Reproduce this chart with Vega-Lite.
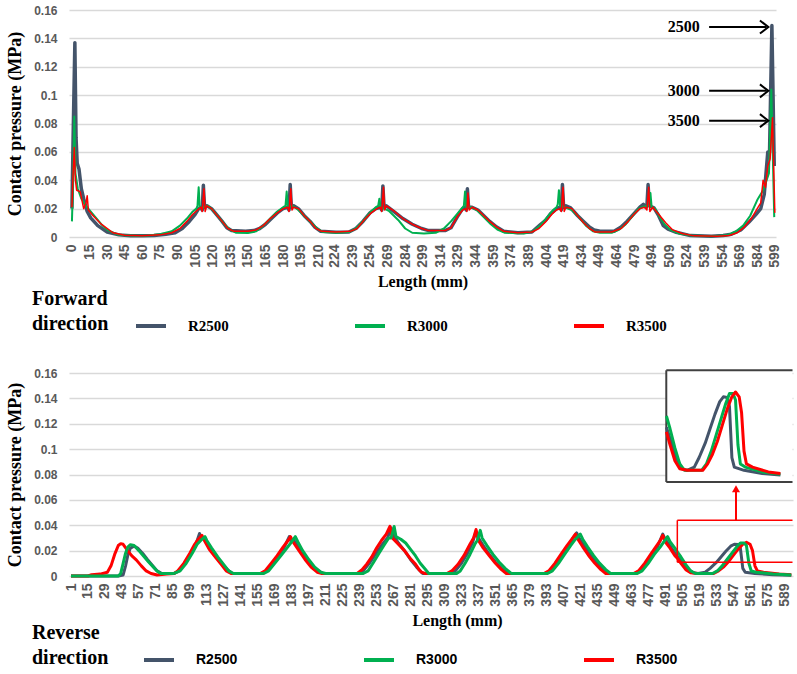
{
"$schema": "https://vega.github.io/schema/vega-lite/v6.json",
"background": "white",
"padding": {"left": 6, "top": 4, "right": 0, "bottom": 0},
"config": {
  "view": {"stroke": null},
  "concat": {"spacing": 33},
  "axis": {"grid": true, "gridColor": "#d9d9d9", "gridWidth": 1.5, "domain": false, "ticks": false, "labelFont": "Liberation Sans", "labelFontWeight": "bold", "labelColor": "#595959", "labelFontSize": 12, "titleFont": "Liberation Serif", "titleFontWeight": "bold", "titleColor": "#000000"},
  "axisX": {"grid": false, "labelAngle": -90, "labelFontSize": 14, "labelPadding": 7, "titleFontSize": 16, "titlePadding": 6, "labelOverlap": false},
  "axisY": {"titleFontSize": 18, "labelPadding": 12, "titlePadding": 9},
  "legend": {"orient": "none", "direction": "horizontal", "columns": 3, "titleOrient": "left", "titleAnchor": "end", "titleAlign": "left", "titleFont": "Liberation Serif", "titleFontSize": 20, "titleFontWeight": "bold", "titleColor": "#000000", "titleLineHeight": 25, "titlePadding": 25, "titleLimit": 300, "symbolType": "stroke", "symbolSize": 900, "symbolStrokeWidth": 4, "labelFontWeight": "bold", "labelColor": "#000000", "labelOffset": 20, "columnPadding": 118}
},
"resolve": {"scale": {"color": "independent"}, "legend": {"color": "independent"}},
"datasets": {
  "f2500": [{"x":0,"y":0.02},{"x":1,"y":0.07},{"x":2.5,"y":0.137},{"x":3.5,"y":0.07},{"x":4.5,"y":0.052},{"x":6,"y":0.048},{"x":8,"y":0.034},{"x":10,"y":0.027},{"x":13,"y":0.018},{"x":16,"y":0.0135},{"x":22,"y":0.008},{"x":30,"y":0.0035},{"x":40,"y":0.0015},{"x":50,"y":0.0008},{"x":60,"y":0.0008},{"x":70,"y":0.001},{"x":80,"y":0.002},{"x":88,"y":0.003},{"x":94,"y":0.006},{"x":100,"y":0.011},{"x":105,"y":0.016},{"x":108,"y":0.02},{"x":110,"y":0.021},{"x":111,"y":0.019},{"x":112,"y":0.0365},{"x":113,"y":0.021},{"x":115,"y":0.022},{"x":119,"y":0.02},{"x":124,"y":0.015},{"x":128,"y":0.011},{"x":132,"y":0.0065},{"x":136,"y":0.0045},{"x":148,"y":0.004},{"x":155,"y":0.0045},{"x":160,"y":0.006},{"x":165,"y":0.009},{"x":170,"y":0.013},{"x":175,"y":0.017},{"x":180,"y":0.02},{"x":184,"y":0.021},{"x":185,"y":0.019},{"x":186,"y":0.037},{"x":187,"y":0.021},{"x":189,"y":0.022},{"x":193,"y":0.02},{"x":198,"y":0.015},{"x":203,"y":0.011},{"x":207,"y":0.007},{"x":212,"y":0.004},{"x":225,"y":0.0033},{"x":236,"y":0.0035},{"x":242,"y":0.006},{"x":248,"y":0.011},{"x":254,"y":0.017},{"x":259,"y":0.02},{"x":263,"y":0.021},{"x":264,"y":0.019},{"x":265,"y":0.036},{"x":266,"y":0.021},{"x":268,"y":0.022},{"x":275,"y":0.0175},{"x":282,"y":0.013},{"x":290,"y":0.009},{"x":298,"y":0.006},{"x":304,"y":0.0045},{"x":318,"y":0.0045},{"x":323,"y":0.0065},{"x":329,"y":0.015},{"x":333,"y":0.02},{"x":335,"y":0.021},{"x":336,"y":0.019},{"x":337,"y":0.034},{"x":338,"y":0.021},{"x":341,"y":0.021},{"x":346,"y":0.019},{"x":351,"y":0.015},{"x":356,"y":0.011},{"x":362,"y":0.007},{"x":368,"y":0.004},{"x":380,"y":0.003},{"x":392,"y":0.0035},{"x":399,"y":0.0085},{"x":404,"y":0.012},{"x":408,"y":0.0165},{"x":413,"y":0.02},{"x":416,"y":0.021},{"x":417,"y":0.019},{"x":418,"y":0.037},{"x":419,"y":0.021},{"x":421,"y":0.022},{"x":425,"y":0.0205},{"x":431,"y":0.015},{"x":436,"y":0.011},{"x":441,"y":0.007},{"x":445,"y":0.005},{"x":450,"y":0.004},{"x":462,"y":0.004},{"x":468,"y":0.007},{"x":473,"y":0.011},{"x":479,"y":0.0165},{"x":484,"y":0.021},{"x":487,"y":0.023},{"x":489,"y":0.021},{"x":490,"y":0.022},{"x":491,"y":0.037},{"x":492,"y":0.022},{"x":496,"y":0.0205},{"x":500,"y":0.015},{"x":504,"y":0.008},{"x":508,"y":0.0055},{"x":515,"y":0.0033},{"x":527,"y":0.001},{"x":545,"y":0.0005},{"x":555,"y":0.001},{"x":562,"y":0.002},{"x":570,"y":0.005},{"x":577,"y":0.0105},{"x":583,"y":0.016},{"x":587,"y":0.02},{"x":590,"y":0.03},{"x":593,"y":0.06},{"x":594.5,"y":0.06},{"x":596.5,"y":0.149},{"x":598.5,"y":0.05}],
  "f3000": [{"x":0,"y":0.011},{"x":1,"y":0.04},{"x":2,"y":0.085},{"x":3,"y":0.045},{"x":5,"y":0.034},{"x":8,"y":0.027},{"x":12,"y":0.022},{"x":15,"y":0.019},{"x":20,"y":0.014},{"x":25,"y":0.009},{"x":30,"y":0.005},{"x":38,"y":0.002},{"x":45,"y":0.0012},{"x":55,"y":0.0008},{"x":65,"y":0.001},{"x":75,"y":0.002},{"x":85,"y":0.004},{"x":92,"y":0.008},{"x":98,"y":0.013},{"x":103,"y":0.018},{"x":106,"y":0.02},{"x":107,"y":0.022},{"x":108,"y":0.035},{"x":109,"y":0.02},{"x":112,"y":0.021},{"x":116,"y":0.022},{"x":120,"y":0.019},{"x":125,"y":0.014},{"x":130,"y":0.009},{"x":135,"y":0.005},{"x":140,"y":0.003},{"x":150,"y":0.0028},{"x":157,"y":0.004},{"x":163,"y":0.008},{"x":169,"y":0.013},{"x":175,"y":0.018},{"x":180,"y":0.021},{"x":182,"y":0.022},{"x":183,"y":0.032},{"x":184,"y":0.021},{"x":188,"y":0.022},{"x":193,"y":0.019},{"x":198,"y":0.015},{"x":204,"y":0.01},{"x":209,"y":0.006},{"x":214,"y":0.0035},{"x":226,"y":0.003},{"x":236,"y":0.0035},{"x":242,"y":0.006},{"x":249,"y":0.012},{"x":255,"y":0.018},{"x":259,"y":0.021},{"x":261,"y":0.022},{"x":262,"y":0.027},{"x":263,"y":0.021},{"x":266,"y":0.02},{"x":270,"y":0.0185},{"x":278,"y":0.012},{"x":284,"y":0.006},{"x":290,"y":0.003},{"x":300,"y":0.0025},{"x":310,"y":0.003},{"x":317,"y":0.006},{"x":323,"y":0.011},{"x":328,"y":0.016},{"x":332,"y":0.02},{"x":334,"y":0.022},{"x":335,"y":0.032},{"x":336,"y":0.021},{"x":340,"y":0.021},{"x":345,"y":0.019},{"x":351,"y":0.014},{"x":357,"y":0.009},{"x":363,"y":0.005},{"x":369,"y":0.003},{"x":385,"y":0.0025},{"x":393,"y":0.004},{"x":399,"y":0.008},{"x":405,"y":0.014},{"x":410,"y":0.019},{"x":413,"y":0.021},{"x":414,"y":0.023},{"x":415,"y":0.033},{"x":416,"y":0.022},{"x":420,"y":0.021},{"x":426,"y":0.019},{"x":432,"y":0.014},{"x":438,"y":0.008},{"x":444,"y":0.004},{"x":450,"y":0.003},{"x":460,"y":0.003},{"x":466,"y":0.005},{"x":472,"y":0.009},{"x":478,"y":0.015},{"x":483,"y":0.02},{"x":486,"y":0.021},{"x":490,"y":0.022},{"x":492,"y":0.022},{"x":493,"y":0.031},{"x":494,"y":0.021},{"x":497,"y":0.02},{"x":501,"y":0.014},{"x":505,"y":0.009},{"x":510,"y":0.005},{"x":517,"y":0.0025},{"x":528,"y":0.001},{"x":545,"y":0.0006},{"x":558,"y":0.0012},{"x":566,"y":0.004},{"x":572,"y":0.008},{"x":578,"y":0.015},{"x":584,"y":0.026},{"x":589,"y":0.033},{"x":592,"y":0.04},{"x":594,"y":0.045},{"x":596,"y":0.104},{"x":598.5,"y":0.014}],
  "f3500": [{"x":0,"y":0.021},{"x":1,"y":0.045},{"x":2,"y":0.063},{"x":3,"y":0.04},{"x":4,"y":0.033},{"x":7,"y":0.032},{"x":10,"y":0.02},{"x":12,"y":0.024},{"x":13,"y":0.029},{"x":14,"y":0.019},{"x":18,"y":0.015},{"x":25,"y":0.009},{"x":35,"y":0.003},{"x":45,"y":0.0012},{"x":60,"y":0.0008},{"x":75,"y":0.0015},{"x":85,"y":0.003},{"x":92,"y":0.006},{"x":98,"y":0.011},{"x":103,"y":0.016},{"x":107,"y":0.019},{"x":110,"y":0.021},{"x":111,"y":0.018},{"x":112.5,"y":0.034},{"x":113.5,"y":0.018},{"x":115,"y":0.022},{"x":119,"y":0.02},{"x":124,"y":0.015},{"x":128,"y":0.011},{"x":133,"y":0.006},{"x":138,"y":0.004},{"x":150,"y":0.004},{"x":157,"y":0.005},{"x":163,"y":0.008},{"x":169,"y":0.013},{"x":175,"y":0.017},{"x":180,"y":0.02},{"x":184,"y":0.021},{"x":185,"y":0.018},{"x":186.5,"y":0.034},{"x":187.5,"y":0.019},{"x":189,"y":0.021},{"x":193,"y":0.02},{"x":198,"y":0.015},{"x":203,"y":0.011},{"x":208,"y":0.006},{"x":213,"y":0.004},{"x":225,"y":0.0035},{"x":237,"y":0.004},{"x":243,"y":0.006},{"x":249,"y":0.012},{"x":255,"y":0.017},{"x":260,"y":0.02},{"x":263,"y":0.021},{"x":264,"y":0.018},{"x":265.5,"y":0.035},{"x":266.5,"y":0.019},{"x":268,"y":0.022},{"x":275,"y":0.018},{"x":282,"y":0.013},{"x":290,"y":0.009},{"x":298,"y":0.006},{"x":304,"y":0.0045},{"x":318,"y":0.0045},{"x":323,"y":0.0065},{"x":329,"y":0.015},{"x":333,"y":0.019},{"x":336,"y":0.02},{"x":336.5,"y":0.018},{"x":337.5,"y":0.031},{"x":338.5,"y":0.019},{"x":341,"y":0.021},{"x":346,"y":0.019},{"x":351,"y":0.015},{"x":356,"y":0.011},{"x":362,"y":0.007},{"x":368,"y":0.004},{"x":380,"y":0.003},{"x":392,"y":0.0035},{"x":398,"y":0.006},{"x":404,"y":0.011},{"x":409,"y":0.016},{"x":413,"y":0.019},{"x":416,"y":0.02},{"x":417,"y":0.018},{"x":418.5,"y":0.035},{"x":419.5,"y":0.018},{"x":421,"y":0.021},{"x":426,"y":0.02},{"x":431,"y":0.015},{"x":436,"y":0.01},{"x":441,"y":0.006},{"x":446,"y":0.0035},{"x":460,"y":0.0035},{"x":468,"y":0.006},{"x":474,"y":0.011},{"x":479,"y":0.016},{"x":484,"y":0.02},{"x":488,"y":0.021},{"x":490,"y":0.019},{"x":491.5,"y":0.035},{"x":492.5,"y":0.018},{"x":495,"y":0.021},{"x":500,"y":0.016},{"x":506,"y":0.01},{"x":512,"y":0.005},{"x":520,"y":0.0025},{"x":530,"y":0.0008},{"x":550,"y":0.0005},{"x":560,"y":0.001},{"x":567,"y":0.003},{"x":573,"y":0.007},{"x":579,"y":0.013},{"x":584,"y":0.02},{"x":587,"y":0.024},{"x":589,"y":0.04},{"x":591,"y":0.035},{"x":593,"y":0.05},{"x":595,"y":0.055},{"x":597,"y":0.084},{"x":599,"y":0.017}],
  "fArrows": [{"x":543,"x2":592,"y":0.148},{"x":543,"x2":592,"y":0.103},{"x":543,"x2":592,"y":0.082}],
  "fHeads": [{"x":593.5,"y":0.148},{"x":593.5,"y":0.103},{"x":593.5,"y":0.082}],
  "fLabels": [{"x":535,"y":0.148,"lab":"2500"},{"x":535,"y":0.103,"lab":"3000"},{"x":535,"y":0.082,"lab":"3500"}],
  "r2500": [{"x":1,"y":0},{"x":40,"y":0},{"x":44,"y":0.0008},{"x":46,"y":0.008},{"x":48,"y":0.017},{"x":50,"y":0.022},{"x":53,"y":0.0235},{"x":56,"y":0.022},{"x":60,"y":0.018},{"x":64,"y":0.013},{"x":68,"y":0.0085},{"x":72,"y":0.004},{"x":76,"y":0.002},{"x":86,"y":0.002},{"x":90,"y":0.004},{"x":95,"y":0.01},{"x":100,"y":0.018},{"x":104,"y":0.025},{"x":107,"y":0.0335},{"x":108,"y":0.03},{"x":111,"y":0.029},{"x":115,"y":0.022},{"x":120,"y":0.016},{"x":125,"y":0.01},{"x":130,"y":0.005},{"x":134,"y":0.002},{"x":158,"y":0.002},{"x":162,"y":0.004},{"x":167,"y":0.01},{"x":172,"y":0.016},{"x":177,"y":0.023},{"x":181,"y":0.031},{"x":182,"y":0.028},{"x":185,"y":0.028},{"x":190,"y":0.02},{"x":195,"y":0.013},{"x":200,"y":0.008},{"x":205,"y":0.004},{"x":209,"y":0.002},{"x":238,"y":0.002},{"x":242,"y":0.004},{"x":247,"y":0.01},{"x":252,"y":0.017},{"x":257,"y":0.024},{"x":262,"y":0.03},{"x":265,"y":0.038},{"x":267,"y":0.032},{"x":271,"y":0.026},{"x":276,"y":0.02},{"x":281,"y":0.013},{"x":286,"y":0.007},{"x":291,"y":0.002},{"x":314,"y":0.002},{"x":318,"y":0.004},{"x":323,"y":0.01},{"x":328,"y":0.018},{"x":332,"y":0.026},{"x":335,"y":0.035},{"x":337,"y":0.03},{"x":341,"y":0.024},{"x":346,"y":0.017},{"x":351,"y":0.011},{"x":356,"y":0.006},{"x":361,"y":0.002},{"x":392,"y":0.002},{"x":396,"y":0.004},{"x":401,"y":0.01},{"x":406,"y":0.017},{"x":411,"y":0.024},{"x":415,"y":0.03},{"x":418,"y":0.034},{"x":420,"y":0.03},{"x":424,"y":0.024},{"x":429,"y":0.017},{"x":434,"y":0.011},{"x":439,"y":0.006},{"x":444,"y":0.002},{"x":466,"y":0.002},{"x":470,"y":0.004},{"x":475,"y":0.01},{"x":480,"y":0.017},{"x":485,"y":0.024},{"x":489,"y":0.033},{"x":491,"y":0.029},{"x":494,"y":0.025},{"x":499,"y":0.018},{"x":501,"y":0.0155},{"x":504,"y":0.012},{"x":509,"y":0.006},{"x":514,"y":0.0025},{"x":518,"y":0.002},{"x":524,"y":0.003},{"x":528,"y":0.006},{"x":533,"y":0.0105},{"x":537,"y":0.015},{"x":541,"y":0.0195},{"x":545,"y":0.0235},{"x":548,"y":0.025},{"x":551,"y":0.0248},{"x":553,"y":0.022},{"x":555,"y":0.006},{"x":557,"y":0.003},{"x":565,"y":0.002},{"x":580,"y":0.001},{"x":595,"y":0.0005}],
  "r3000": [{"x":1,"y":0},{"x":40,"y":0},{"x":42,"y":0.002},{"x":44,"y":0.01},{"x":46,"y":0.018},{"x":48,"y":0.023},{"x":50,"y":0.0247},{"x":53,"y":0.024},{"x":57,"y":0.02},{"x":61,"y":0.0155},{"x":65,"y":0.011},{"x":69,"y":0.007},{"x":72,"y":0.004},{"x":75,"y":0.002},{"x":86,"y":0.002},{"x":91,"y":0.004},{"x":96,"y":0.01},{"x":101,"y":0.018},{"x":105,"y":0.025},{"x":108,"y":0.028},{"x":111.5,"y":0.031},{"x":113,"y":0.028},{"x":117,"y":0.022},{"x":122,"y":0.015},{"x":127,"y":0.009},{"x":131,"y":0.004},{"x":135,"y":0.002},{"x":160,"y":0.002},{"x":164,"y":0.004},{"x":169,"y":0.01},{"x":174,"y":0.016},{"x":179,"y":0.022},{"x":183,"y":0.027},{"x":186,"y":0.031},{"x":188,"y":0.027},{"x":192,"y":0.02},{"x":197,"y":0.013},{"x":202,"y":0.007},{"x":207,"y":0.003},{"x":211,"y":0.002},{"x":242,"y":0.002},{"x":246,"y":0.004},{"x":250,"y":0.01},{"x":255,"y":0.018},{"x":259,"y":0.024},{"x":263,"y":0.03},{"x":265,"y":0.03},{"x":267.5,"y":0.039},{"x":269,"y":0.031},{"x":273,"y":0.029},{"x":277,"y":0.026},{"x":281,"y":0.021},{"x":285,"y":0.016},{"x":289,"y":0.01},{"x":293,"y":0.0055},{"x":296,"y":0.002},{"x":319,"y":0.002},{"x":322,"y":0.004},{"x":326,"y":0.01},{"x":330,"y":0.017},{"x":334,"y":0.025},{"x":336,"y":0.028},{"x":338.5,"y":0.036},{"x":340,"y":0.03},{"x":344,"y":0.024},{"x":349,"y":0.017},{"x":354,"y":0.011},{"x":359,"y":0.006},{"x":364,"y":0.002},{"x":394,"y":0.002},{"x":398,"y":0.004},{"x":403,"y":0.01},{"x":408,"y":0.017},{"x":413,"y":0.024},{"x":417,"y":0.029},{"x":421,"y":0.033},{"x":423,"y":0.029},{"x":427,"y":0.023},{"x":432,"y":0.016},{"x":437,"y":0.01},{"x":442,"y":0.005},{"x":446,"y":0.002},{"x":468,"y":0.002},{"x":472,"y":0.004},{"x":477,"y":0.01},{"x":482,"y":0.017},{"x":487,"y":0.023},{"x":490,"y":0.027},{"x":493,"y":0.031},{"x":495,"y":0.027},{"x":499,"y":0.022},{"x":501,"y":0.019},{"x":504,"y":0.015},{"x":508,"y":0.009},{"x":512,"y":0.004},{"x":516,"y":0.002},{"x":530,"y":0.002},{"x":534,"y":0.004},{"x":538,"y":0.008},{"x":542,"y":0.013},{"x":546,"y":0.018},{"x":550,"y":0.023},{"x":553,"y":0.026},{"x":556,"y":0.026},{"x":558,"y":0.024},{"x":560,"y":0.01},{"x":562,"y":0.004},{"x":566,"y":0.003},{"x":580,"y":0.0015},{"x":595,"y":0.0008}],
  "r3500": [{"x":1,"y":0},{"x":15,"y":0},{"x":18,"y":0.001},{"x":25,"y":0.0015},{"x":31,"y":0.003},{"x":34,"y":0.008},{"x":37,"y":0.017},{"x":40,"y":0.024},{"x":42,"y":0.0255},{"x":44,"y":0.025},{"x":47,"y":0.021},{"x":51,"y":0.016},{"x":55,"y":0.0125},{"x":59,"y":0.008},{"x":63,"y":0.004},{"x":67,"y":0.002},{"x":72,"y":0.0008},{"x":80,"y":0.0015},{"x":86,"y":0.002},{"x":89,"y":0.004},{"x":94,"y":0.01},{"x":99,"y":0.018},{"x":103,"y":0.025},{"x":106,"y":0.029},{"x":109,"y":0.032},{"x":111,"y":0.028},{"x":115,"y":0.021},{"x":120,"y":0.015},{"x":125,"y":0.009},{"x":129,"y":0.004},{"x":133,"y":0.002},{"x":157,"y":0.002},{"x":161,"y":0.004},{"x":166,"y":0.01},{"x":171,"y":0.016},{"x":176,"y":0.023},{"x":180,"y":0.028},{"x":182,"y":0.031},{"x":184,"y":0.027},{"x":189,"y":0.02},{"x":194,"y":0.013},{"x":199,"y":0.007},{"x":204,"y":0.003},{"x":208,"y":0.002},{"x":225,"y":0.002},{"x":237,"y":0.002},{"x":241,"y":0.005},{"x":245,"y":0.0095},{"x":249,"y":0.015},{"x":253,"y":0.022},{"x":257,"y":0.028},{"x":261,"y":0.033},{"x":264,"y":0.0392},{"x":266,"y":0.03},{"x":270,"y":0.026},{"x":276,"y":0.02},{"x":281,"y":0.0135},{"x":285,"y":0.0095},{"x":288,"y":0.005},{"x":290,"y":0.003},{"x":293,"y":0.002},{"x":311,"y":0.002},{"x":315,"y":0.004},{"x":320,"y":0.009},{"x":325,"y":0.016},{"x":330,"y":0.025},{"x":333,"y":0.03},{"x":335,"y":0.0366},{"x":337,"y":0.028},{"x":341,"y":0.022},{"x":346,"y":0.016},{"x":351,"y":0.01},{"x":356,"y":0.005},{"x":360,"y":0.002},{"x":391,"y":0.002},{"x":395,"y":0.004},{"x":400,"y":0.01},{"x":405,"y":0.017},{"x":410,"y":0.024},{"x":414,"y":0.029},{"x":417,"y":0.033},{"x":419,"y":0.029},{"x":423,"y":0.023},{"x":428,"y":0.016},{"x":433,"y":0.01},{"x":438,"y":0.005},{"x":442,"y":0.002},{"x":465,"y":0.002},{"x":469,"y":0.004},{"x":474,"y":0.01},{"x":479,"y":0.017},{"x":484,"y":0.024},{"x":487,"y":0.028},{"x":489,"y":0.032},{"x":491,"y":0.027},{"x":495,"y":0.022},{"x":499,"y":0.016},{"x":501,"y":0.014},{"x":504,"y":0.01},{"x":508,"y":0.005},{"x":512,"y":0.0025},{"x":518,"y":0.002},{"x":531,"y":0.002},{"x":535,"y":0.004},{"x":539,"y":0.007},{"x":543,"y":0.011},{"x":547,"y":0.016},{"x":551,"y":0.021},{"x":555,"y":0.025},{"x":558,"y":0.0265},{"x":561,"y":0.025},{"x":563,"y":0.02},{"x":565,"y":0.008},{"x":567,"y":0.004},{"x":572,"y":0.003},{"x":585,"y":0.0015},{"x":595,"y":0.001}],
  "rBox": [{"x":501,"x2":501,"y":0.0108,"y2":0.0439},{"x":501,"x2":596,"y":0.0439,"y2":0.0439},{"x":501,"x2":596,"y":0.0108,"y2":0.0108}],
  "rArrow": [{"x":549.4,"x2":549.4,"y":0.0439,"y2":0.067}],
  "rHead": [{"x":549.4,"y":0.0688}],
  "insetBg": [{"x":500.9,"x2":605,"y":-0.00166,"y2":0.0333}],
  "insetBorder": [{"x":500.9,"x2":500.9,"y":-0.00166,"y2":0.0333},{"x":500.9,"x2":605,"y":0.0333,"y2":0.0333},{"x":500.9,"x2":605,"y":-0.00166,"y2":-0.00166}]
},
"vconcat": [
  {
    "width": 707, "height": 227,
    "encoding": {
      "x": {"field": "x", "type": "quantitative", "scale": {"domain": [-2.5, 600], "nice": false, "zero": false},
            "axis": {"title": "Length (mm)", "values": [0,15,30,45,60,75,90,105,120,135,150,165,180,195,210,224,239,254,269,284,299,314,329,344,359,374,389,404,419,434,449,464,479,494,509,524,539,554,569,584,599]}},
      "y": {"field": "y", "type": "quantitative", "scale": {"domain": [0, 0.16], "nice": false},
            "axis": {"title": "Contact pressure (MPa)", "values": [0,0.02,0.04,0.06,0.08,0.1,0.12,0.14,0.16], "format": "~g"}}
    },
    "layer": [
      {"data": {"name": "f2500"}, "mark": {"type": "line", "strokeWidth": 3.5, "strokeJoin": "round"},
       "encoding": {"color": {"datum": "R2500", "type": "nominal",
         "scale": {"domain": ["R2500","R3000","R3500"], "range": ["#44546a","#00b050","#ff0000"]},
         "legend": {"title": ["Forward", "direction"], "legendX": -37, "legendY": 299, "labelFont": "Liberation Serif", "labelFontSize": 15}}}},
      {"data": {"name": "f3000"}, "mark": {"type": "line", "strokeWidth": 2, "strokeJoin": "round"},
       "encoding": {"color": {"datum": "R3000", "type": "nominal"}}},
      {"data": {"name": "f3500"}, "mark": {"type": "line", "strokeWidth": 1.5, "strokeJoin": "round"},
       "encoding": {"color": {"datum": "R3500", "type": "nominal"}}},
      {"data": {"name": "fArrows"}, "mark": {"type": "rule", "color": "#000000", "strokeWidth": 2},
       "encoding": {"x2": {"field": "x2"}}},
      {"data": {"name": "fHeads"}, "mark": {"type": "point", "shape": "M-1.3,-1L0,0L-1.3,1", "filled": false, "color": "#000000", "strokeWidth": 2, "size": 169, "opacity": 1}},
      {"data": {"name": "fLabels"}, "mark": {"type": "text", "align": "right", "baseline": "middle", "font": "Liberation Serif", "fontWeight": "bold", "fontSize": 16, "color": "#000000"},
       "encoding": {"text": {"field": "lab"}}}
    ]
  },
  {
    "width": 724, "height": 203,
    "layer": [
      {
        "encoding": {
          "x": {"field": "x", "type": "quantitative", "scale": {"domain": [-0.65, 596.4], "nice": false, "zero": false},
                "axis": {"title": "Length (mm)", "titleX": 388, "values": [1,15,29,43,57,71,85,99,113,127,141,155,169,183,197,211,225,239,253,267,281,295,309,323,337,351,365,379,393,407,421,435,449,463,477,491,505,519,533,547,561,575,589]}},
          "y": {"field": "y", "type": "quantitative", "scale": {"domain": [0, 0.16], "nice": false},
                "axis": {"title": "Contact pressure (MPa)", "values": [0,0.02,0.04,0.06,0.08,0.1,0.12,0.14,0.16], "format": "~g"}}
        },
        "layer": [
          {"data": {"name": "r2500"}, "mark": {"type": "line", "strokeWidth": 3, "strokeJoin": "round"},
           "encoding": {"color": {"datum": "R2500", "type": "nominal",
             "scale": {"domain": ["R2500","R3000","R3500"], "range": ["#44546a","#00b050","#ff0000"]},
             "legend": {"title": ["Reverse", "direction"], "legendX": -37, "legendY": 270, "titlePadding": 33, "labelFont": "Liberation Sans", "labelFontSize": 14}}}},
          {"data": {"name": "r3500"}, "mark": {"type": "line", "strokeWidth": 3, "strokeJoin": "round"},
           "encoding": {"color": {"datum": "R3500", "type": "nominal"}}},
          {"data": {"name": "r3000"}, "mark": {"type": "line", "strokeWidth": 3, "strokeJoin": "round"},
           "encoding": {"color": {"datum": "R3000", "type": "nominal"}}},
          {"data": {"name": "rBox"}, "mark": {"type": "rule", "color": "#ff0000", "strokeWidth": 1.5},
           "encoding": {"x2": {"field": "x2"}, "y2": {"field": "y2"}}},
          {"data": {"name": "rArrow"}, "mark": {"type": "rule", "color": "#ff0000", "strokeWidth": 2},
           "encoding": {"x2": {"field": "x2"}, "y2": {"field": "y2"}}},
          {"data": {"name": "rHead"}, "mark": {"type": "point", "shape": "triangle-up", "filled": true, "color": "#ff0000", "size": 64, "opacity": 1}}
        ]
      },
      {
        "encoding": {
          "x": {"field": "x", "type": "quantitative", "scale": {"domain": [8.35, 605.4], "nice": false, "zero": false}, "axis": null},
          "y": {"field": "y", "type": "quantitative", "scale": {"domain": [-0.03107, 0.03245], "nice": false, "zero": false}, "axis": null}
        },
        "layer": [
          {"data": {"name": "insetBg"}, "mark": {"type": "rect", "color": "#ffffff", "opacity": 1},
           "encoding": {"x2": {"field": "x2"}, "y2": {"field": "y2"}}},
          {"data": {"name": "insetBorder"}, "mark": {"type": "rule", "color": "#404040", "strokeWidth": 2},
           "encoding": {"x2": {"field": "x2"}, "y2": {"field": "y2"}}},
          {"data": {"name": "r2500"}, "transform": [{"filter": "datum.x >= 501"}], "mark": {"type": "line", "strokeWidth": 3, "strokeJoin": "round"},
           "encoding": {"color": {"datum": "R2500", "type": "nominal"}}},
          {"data": {"name": "r3000"}, "transform": [{"filter": "datum.x >= 501"}], "mark": {"type": "line", "strokeWidth": 3, "strokeJoin": "round"},
           "encoding": {"color": {"datum": "R3000", "type": "nominal"}}},
          {"data": {"name": "r3500"}, "transform": [{"filter": "datum.x >= 501"}], "mark": {"type": "line", "strokeWidth": 3, "strokeJoin": "round"},
           "encoding": {"color": {"datum": "R3500", "type": "nominal"}}}
        ]
      }
    ],
    "resolve": {"scale": {"x": "independent", "y": "independent"}}
  }
]
}
